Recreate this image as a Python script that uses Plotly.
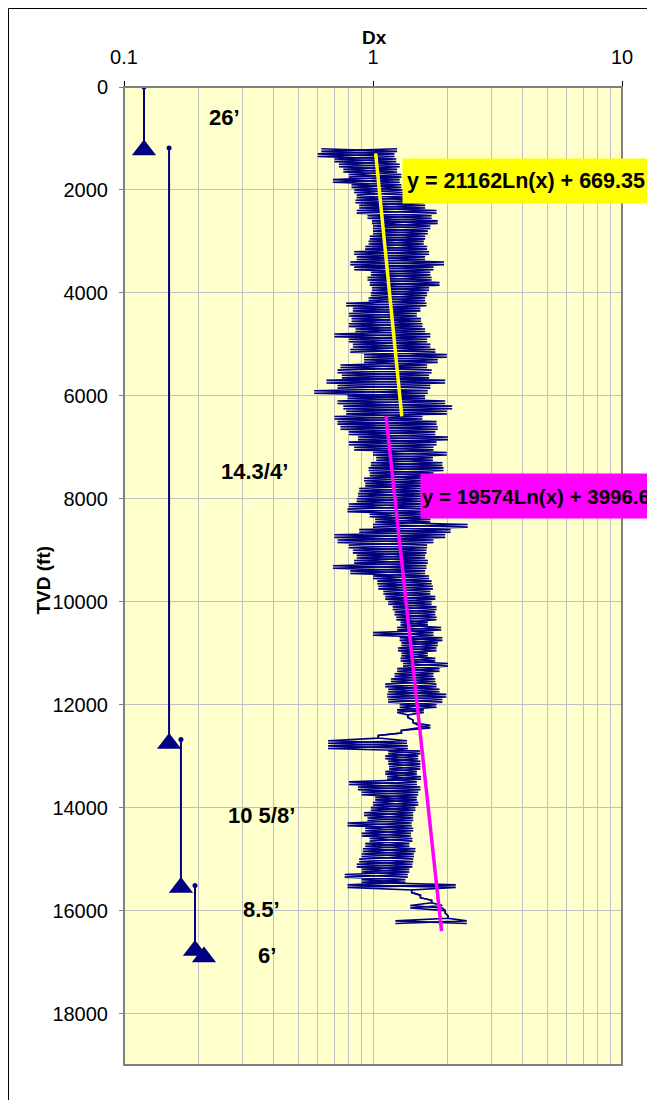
import math
import plotly.graph_objects as go

# casing strings: x position (Dx), top of line and shoe depth (ft)
casing_names = ["26\u2019", "14.3/4\u2019", "10 5/8\u2019", "8.5\u2019", "6\u2019"]
casing_x = [0.1203, 0.1517, 0.1693, 0.1928, 0.2095]
casing_top = [0, 1186, 12675, 15513, None]
casing_shoe = [1225, 12753, 15552, 16777, 16900]
label_x = [0.254, 0.333, 0.358, 0.358, 0.375]
label_depth = [583, 7470, 14150, 15980, 16870]

# Dx log: depth every 100 ft from 1200, low / high excursion
dx_depth = list(range(1200, 16300, 100))
dx_low = [
    0.62, 0.60, 0.70, 0.73, 0.76, 0.80, 0.69, 0.82, 0.84, 0.86,   # 1200
    0.85, 0.88, 0.86, 0.95, 0.99, 1.00, 1.00, 0.97, 0.96, 0.93,   # 2200
    0.84, 0.86, 0.81, 0.84, 0.98, 0.95, 0.97, 0.99, 0.98, 0.96,   # 3200
    0.78, 0.83, 0.80, 0.82, 0.80, 0.85, 0.70, 0.80, 0.83, 0.81,   # 4200
    0.92, 0.92, 0.74, 0.72, 0.75, 0.65, 0.72, 0.58, 0.79, 0.72,   # 5200
    0.76, 0.78, 0.70, 0.72, 0.74, 0.80, 0.87, 0.80, 0.84, 1.00,   # 6200
    1.03, 0.98, 0.96, 0.97, 0.92, 0.93, 0.88, 0.87, 0.86, 0.80,   # 7200
    0.79, 0.97, 1.02, 1.00, 0.88, 0.70, 0.72, 0.80, 0.83, 0.86,   # 8200
    0.84, 0.69, 0.81, 1.00, 1.04, 1.05, 1.10, 1.12, 1.15, 1.20,   # 9200
    1.22, 1.24, 1.29, 1.25, 1.00, 1.28, 1.30, 1.26, 1.30, 1.29,   # 10200
    1.32, 1.25, 1.22, 1.18, 1.12, 1.15, 1.14, 1.15, 1.28, 1.25,   # 11200
    1.38, 1.45, 1.52, 1.30, 1.05, 0.66, 0.66, 1.15, 1.12, 1.15,   # 12200
    1.16, 1.12, 1.14, 0.80, 0.87, 0.90, 1.02, 1.00, 0.98, 0.92,   # 13200
    0.95, 0.79, 0.93, 0.90, 0.97, 0.93, 0.91, 0.90, 0.88, 0.86,   # 14200
    0.90, 0.77, 0.90, 0.79, 1.43, 1.55, 1.72, 1.41, 1.95, 2.00,   # 15200
    1.23,                                                         # 16200
]
dx_high = [
    1.25, 1.22, 1.24, 1.28, 1.25, 1.30, 1.28, 1.30, 1.32, 1.40,
    1.60, 1.62, 1.80, 1.72, 1.82, 1.70, 1.66, 1.62, 1.60, 1.65,
    1.68, 1.62, 1.93, 1.75, 1.70, 1.72, 1.85, 1.68, 1.65, 1.62,
    1.64, 1.55, 1.50, 1.56, 1.58, 1.62, 1.70, 1.65, 1.70, 1.78,
    1.98, 1.82, 1.65, 1.72, 1.68, 1.95, 1.70, 1.66, 1.62, 1.95,
    2.08, 1.98, 1.58, 1.80, 1.82, 1.78, 2.00, 1.80, 1.75, 1.98,
    1.74, 1.90, 1.92, 1.75, 1.62, 1.60, 1.58, 1.62, 1.58, 1.60,
    1.64, 1.66, 1.70, 2.40, 2.05, 1.95, 1.75, 1.65, 1.64, 1.62,
    1.66, 1.64, 1.62, 1.68, 1.72, 1.74, 1.70, 1.78, 1.72, 1.80,
    1.78, 1.80, 1.66, 1.88, 1.75, 1.90, 1.82, 1.80, 1.66, 1.78,
    2.00, 1.85, 1.75, 1.78, 1.80, 1.85, 1.97, 1.90, 1.80, 1.60,
    1.38, 1.45, 1.70, 1.30, 1.05, 1.37, 1.38, 1.55, 1.52, 1.55,
    1.55, 1.50, 1.56, 1.50, 1.55, 1.52, 1.50, 1.52, 1.48, 1.45,
    1.45, 1.43, 1.45, 1.42, 1.44, 1.40, 1.48, 1.46, 1.45, 1.44,
    1.40, 1.38, 1.35, 2.15, 1.43, 1.55, 1.72, 1.90, 1.95, 2.00,
    2.38,
]

# trend lines (end points)
trend1_x = [1.025, 1.305]
trend1_y = [1290, 6400]
trend1_text = "y = 21162Ln(x) + 669.35"
trend2_x = [1.128, 1.885]
trend2_y = [6390, 16400]
trend2_text = "y = 19574Ln(x) + 3996.6"

depth_ticks = list(range(0, 19000, 2000))

# page has an 8px body margin, so window pixel = figure pixel + 8
OFF = 8
W, H = 655, 1100
L, T = 116, 79
PW, PH = 498, 978
R, B = W - L - PW, H - T - PH


def px(x):
    # window x pixel -> paper x
    return (x - OFF - L) / PW


def py(y):
    # window y pixel -> paper y
    return (T + PH - (y - OFF)) / PH


NAVY = "#000080"
FONT = "Arial, Liberation Sans, sans-serif"

# two opposite swings between the low and high readings of each 100 ft step
xa, xb, ys = [], [], []
for d, lo, hi in zip(dx_depth, dx_low, dx_high):
    xa += [lo, hi]
    xb += [hi, lo]
    ys += [d, d + 50]

fig = go.Figure()
for xs in (xa, xb):
    fig.add_trace(go.Scatter(x=xs, y=ys, mode="lines",
                             line=dict(color=NAVY, width=1.6), hoverinfo="skip"))
fig.add_trace(go.Scatter(x=trend1_x, y=trend1_y, mode="lines",
                         line=dict(color="#FFFF00", width=3.5)))
fig.add_trace(go.Scatter(x=trend2_x, y=trend2_y, mode="lines",
                         line=dict(color="#FF00FF", width=3.5)))

for cx, top, shoe in zip(casing_x, casing_top, casing_shoe):
    if top is not None:
        fig.add_trace(go.Scatter(x=[cx, cx], y=[top, shoe], mode="lines",
                                 line=dict(color=NAVY, width=2)))
        fig.add_trace(go.Scatter(x=[cx], y=[top], mode="markers",
                                 marker=dict(color=NAVY, size=5, symbol="circle")))
    fig.add_trace(go.Scatter(x=[cx], y=[shoe], mode="markers",
                             marker=dict(color=NAVY, size=21, symbol="triangle-up")))

# annotations on a log axis take log10 positions
for name, lx, ld in zip(casing_names, label_x, label_depth):
    fig.add_annotation(x=math.log10(lx), y=ld, xref="x", yref="y", text="<b>%s</b>" % name,
                       showarrow=False, font=dict(family=FONT, size=22, color="black"))

fig.add_annotation(x=px(402), y=py(181), xref="paper", yref="paper",
                   xanchor="left", yanchor="middle", text="<b>%s</b>" % trend1_text,
                   showarrow=False, bgcolor="#FFFF00", width=244, height=42,
                   font=dict(family=FONT, size=21.5, color="black"))
fig.add_annotation(x=px(420), y=py(496), xref="paper", yref="paper",
                   xanchor="left", yanchor="middle", text="<b>%s</b>" % trend2_text,
                   showarrow=False, bgcolor="#FF00FF", width=244, height=42, align="left",
                   font=dict(family=FONT, size=20.5, color="black"))

# axis titles
fig.add_annotation(x=px(374), y=py(25), xref="paper", yref="paper", text="<b>Dx</b>",
                   showarrow=False, font=dict(family=FONT, size=19, color="black"))
fig.add_annotation(x=px(30), y=py(580), xref="paper", yref="paper", text="<b>TVD (ft)</b>",
                   textangle=-90, showarrow=False, font=dict(family=FONT, size=19, color="black"))

# plot area border and chart border
fig.add_shape(type="rect", xref="paper", yref="paper", x0=0, x1=1, y0=0, y1=1,
              line=dict(color="#808080", width=2), layer="above")
fig.add_shape(type="rect", xref="paper", yref="paper", x0=px(8.5), x1=px(700), y0=py(1150), y1=py(8.5),
              line=dict(color="black", width=1))

minor_vals = [0.2, 0.3, 0.4, 0.5, 0.6, 0.7, 0.8, 0.9, 2, 3, 4, 5, 6, 7, 8, 9]

fig.update_layout(
    width=W, height=H,
    margin=dict(l=L, r=R, t=T, b=B),
    paper_bgcolor="white",
    plot_bgcolor="#FFFFCC",
    showlegend=False,
    font=dict(family=FONT, size=20, color="black"),
    xaxis=dict(
        type="log", side="top", range=[-1, 1],
        tickvals=[0.1, 1, 10], ticktext=["0.1", "1", "10"],
        ticks="outside", ticklen=5, tickcolor="black", ticklabelstandoff=9,
        showgrid=True, gridcolor="#C0C0C0", gridwidth=1,
        minor=dict(tickvals=minor_vals, showgrid=True, gridcolor="#C0C0C0", gridwidth=1, ticks=""),
        showline=True, linecolor="black", linewidth=1, zeroline=False,
    ),
    yaxis=dict(
        range=[19000, 0], tickvals=depth_ticks, ticktext=[str(v) for v in depth_ticks],
        ticks="outside", ticklen=4, tickcolor="#808080", ticklabelstandoff=7,
        showgrid=True, gridcolor="#C0C0C0", gridwidth=1,
        showline=False, zeroline=False,
    ),
)

fig.write_html("out.html")
